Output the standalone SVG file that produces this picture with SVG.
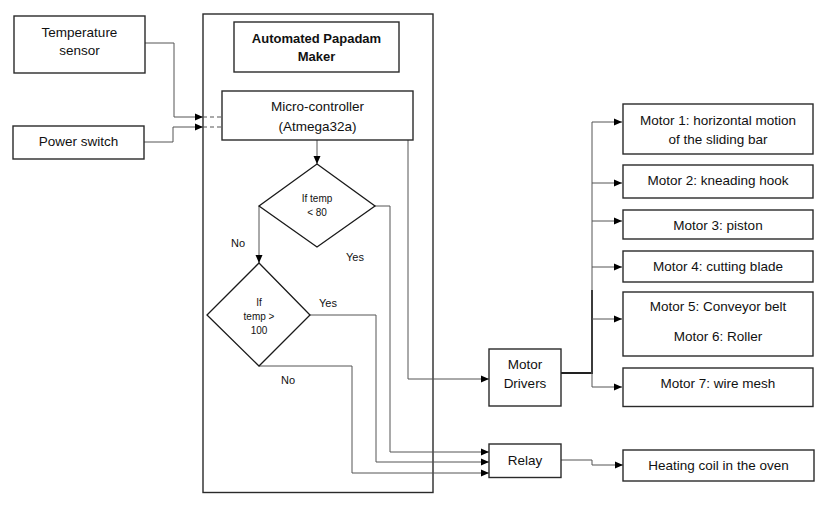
<svg xmlns="http://www.w3.org/2000/svg" width="832" height="513" viewBox="0 0 832 513">
<style>
.box{fill:#fff;stroke:#2a2a2a;stroke-width:1.4}
.dia{fill:#fff;stroke:#1a1a1a;stroke-width:1.3}
.t{font-family:"Liberation Sans",Arial,sans-serif;font-size:13.5px;fill:#111;text-anchor:middle;dominant-baseline:central}
.b{font-weight:bold;font-size:13px}
.s{font-size:10px}
.l{font-size:11px}
.c{fill:none;stroke:#555;stroke-width:1}
.d{fill:none;stroke:#555;stroke-width:1;stroke-dasharray:4,3}
.k{fill:none;stroke:#222;stroke-width:2}
</style>
<defs>
<marker id="a" markerUnits="userSpaceOnUse" markerWidth="9" markerHeight="8" refX="8" refY="4" orient="auto">
<path d="M0,0.5 L8,4 L0,7.5 Z" fill="#000"/>
</marker>
</defs>
<rect width="832" height="513" fill="#fff"/>
<g id="container"><rect class="box" x="203" y="14" width="230" height="478.5"/></g>
<g id="connectors">
<path class="c" d="M145,43 H174 V117 H203" marker-end="url(#a)"/>
<path class="d" d="M203,117 H222"/>
<path class="c" d="M144,142 H173 V127 H203" marker-end="url(#a)"/>
<path class="d" d="M203,127 H222"/>
<path class="c" d="M317,140 V164" marker-end="url(#a)"/>
<path class="c" d="M259,206 V263" marker-end="url(#a)"/>
<path class="c" d="M375,206 H390 V452 H489" marker-end="url(#a)"/>
<path class="c" d="M310,315 H376 V462 H489" marker-end="url(#a)"/>
<path class="c" d="M259,366 H352 V473 H489" marker-end="url(#a)"/>
<path class="c" d="M408,140 V379 H489" marker-end="url(#a)"/>
<path class="k" d="M561,373 H592 V290"/>
<path class="c" d="M592,122 V387"/>
<path class="c" d="M592,122 H622" marker-end="url(#a)"/>
<path class="c" d="M592,183 H622" marker-end="url(#a)"/>
<path class="c" d="M592,221 H622" marker-end="url(#a)"/>
<path class="c" d="M592,267 H622" marker-end="url(#a)"/>
<path class="c" d="M592,319 H622" marker-end="url(#a)"/>
<path class="c" d="M592,387 H622" marker-end="url(#a)"/>
<path class="c" d="M561,460 H592 V465 H623" marker-end="url(#a)"/>
</g>
<g id="temp-sensor"><rect class="box" x="14" y="16" width="131" height="57"/><text class="t" x="79.5" y="32">Temperature</text><text class="t" x="79.5" y="50">sensor</text></g>
<g id="power-switch"><rect class="box" x="13" y="126" width="131" height="33"/><text class="t" x="78.5" y="141.5">Power switch</text></g>
<g id="title"><rect class="box" x="234" y="22" width="165" height="50"/><text class="t b" x="316.5" y="38">Automated Papadam</text><text class="t b" x="316.5" y="56.5">Maker</text></g>
<g id="microcontroller"><rect class="box" x="222" y="91" width="191" height="49"/><text class="t" x="317.5" y="106">Micro-controller</text><text class="t" x="317.5" y="126">(Atmega32a)</text></g>
<g id="decision1"><polygon class="dia" points="317,164 375,206 317,247 259,206"/><text class="t s" x="317" y="198">If temp</text><text class="t s" x="317" y="212">&lt; 80</text></g>
<g id="decision2"><polygon class="dia" points="259,263 310,315 259,366 207,315"/><text class="t s" x="259" y="302">If</text><text class="t s" x="259" y="316">temp &gt;</text><text class="t s" x="259" y="330">100</text></g>
<g id="labels">
<text class="t l" x="238" y="243">No</text>
<text class="t l" x="355" y="257">Yes</text>
<text class="t l" x="328" y="303">Yes</text>
<text class="t l" x="288" y="380">No</text>
</g>
<g id="motor-drivers"><rect class="box" x="489" y="349" width="72" height="57"/><text class="t" x="525" y="364.5">Motor</text><text class="t" x="525" y="383.5">Drivers</text></g>
<g id="relay"><rect class="box" x="489" y="444" width="72" height="33.5"/><text class="t" x="525" y="460">Relay</text></g>
<g id="motor1"><rect class="box" x="623" y="104" width="190" height="50"/><text class="t" x="718" y="120">Motor 1: horizontal motion</text><text class="t" x="718" y="139">of the sliding bar</text></g>
<g id="motor2"><rect class="box" x="623" y="165" width="190" height="33"/><text class="t" x="718" y="180.5">Motor 2: kneading hook</text></g>
<g id="motor3"><rect class="box" x="623" y="210" width="190" height="29"/><text class="t" x="718" y="225">Motor 3: piston</text></g>
<g id="motor4"><rect class="box" x="623" y="251" width="190" height="31"/><text class="t" x="718" y="266">Motor 4: cutting blade</text></g>
<g id="motor56"><rect class="box" x="623" y="292" width="190" height="64"/><text class="t" x="718" y="306.5">Motor 5: Conveyor belt</text><text class="t" x="718" y="336.5">Motor 6: Roller</text></g>
<g id="motor7"><rect class="box" x="623" y="368" width="190" height="38.5"/><text class="t" x="718" y="383">Motor 7: wire mesh</text></g>
<g id="heating-coil"><rect class="box" x="623" y="450" width="191" height="31"/><text class="t" x="718.5" y="465.5">Heating coil in the oven</text></g>
</svg>
